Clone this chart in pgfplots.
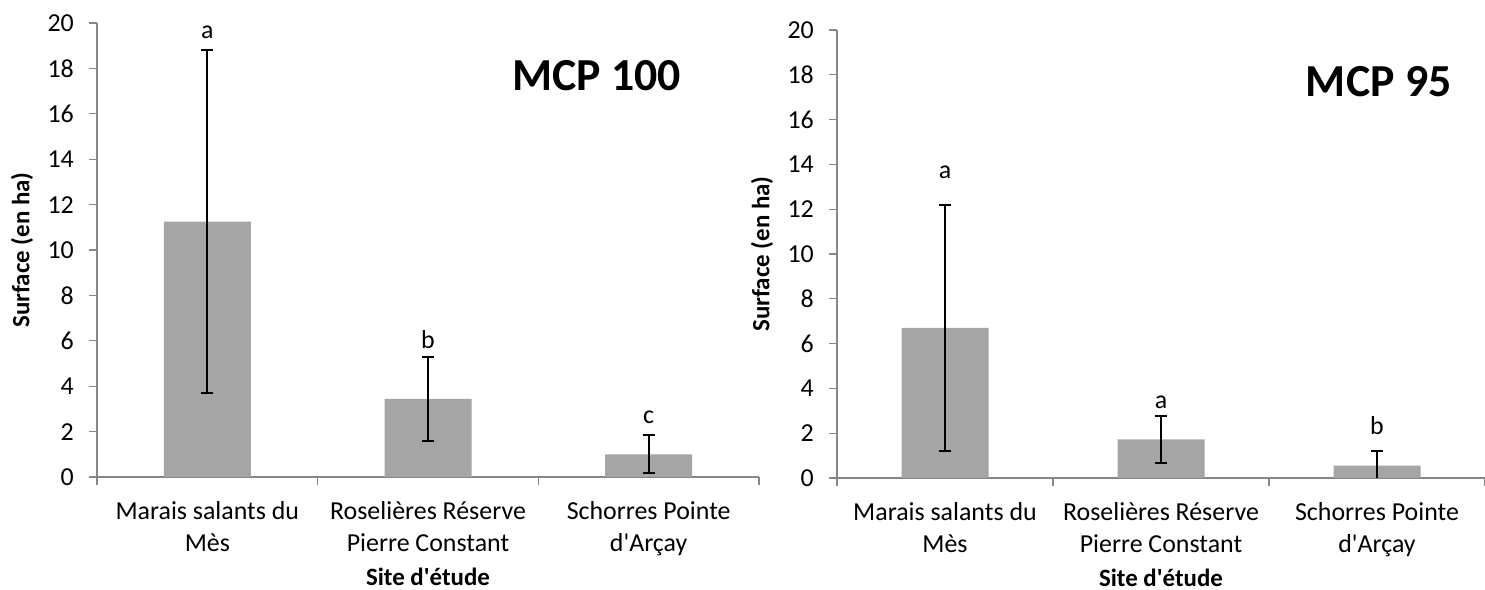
\documentclass[border=0pt]{standalone}
\usepackage{fontspec}
\setmainfont{Carlito}[Ligatures=TeXOff]
\usepackage{pgfplots}
\pgfplotsset{compat=1.18}
\definecolor{barcol}{HTML}{A5A5A5}
\definecolor{axcol}{HTML}{868686}
\pgfplotsset{mcp/.style={
  scale only axis, ybar, bar width=87bp, bar shift=0pt,
  xmin=-0.5, xmax=2.5, ymin=0, ymax=20, ytick={0,2,...,20},
  xtick={0,1,2},
  xticklabels={{Marais salants du\\Mès},{Roselières Réserve\\Pierre Constant},{Schorres Pointe\\d'Arçay}},
  minor xtick={-0.5,0.5,1.5,2.5},
  axis x line*=bottom, axis y line*=left,
  axis line style={axcol, line width=1.3bp, -},
  tick style={axcol, line width=1.3bp},
  every major x tick/.style={draw=none},
  major tick length=8bp, minor tick length=8bp, tick align=outside,
  /pgf/number format/assume math mode=true,
  tick label style={font=\fontsize{26}{32}\selectfont, text=black},
  yticklabel style={anchor=east, inner sep=0pt, xshift=-15bp},
  xticklabel style={align=center, anchor=north, inner sep=0pt, yshift=-16bp},
  ylabel={\textbf{Surface (en ha)}},
  ylabel style={font=\fontsize{25}{30}\selectfont, at={(axis description cs:0,0.5)}, anchor=center, yshift=75bp},
  xlabel={\textbf{Site d'étude}},
  xlabel style={font=\fontsize{25}{30}\selectfont, at={(axis description cs:0.5,0)}, anchor=base, yshift=-108bp},
}}
\pgfplotsset{bars/.style={fill=barcol, draw=none,
  error bars/.cd, y dir=both, y explicit,
  error bar style={black, line width=2bp},
  error mark options={rotate=90, black, mark size=6bp, line width=2bp}}}
\begin{document}
\begin{tikzpicture}
\useasboundingbox (0,0) rectangle (1485bp,590bp);
\begin{axis}[mcp, at={(97bp,113bp)}, anchor=south west, width=662bp, height=454bp]
\addplot[bars] coordinates {(0,11.25) +- (0,7.55) (1,3.44) +- (0,1.84) (2,1.0) +- (0,0.84)};
\node[font=\fontsize{26}{32}\selectfont] at (axis cs:0,19.6) {a};
\node[font=\fontsize{26}{32}\selectfont] at (axis cs:1,6.05) {b};
\node[font=\fontsize{26}{32}\selectfont] at (axis cs:2,2.65) {c};
\node[font=\fontsize{46}{52}\selectfont\bfseries] at (axis description cs:0.755,0.885) {MCP 100};
\end{axis}
\begin{axis}[mcp, at={(837bp,112bp)}, anchor=south west, width=648bp, height=448bp]
\addplot[bars] coordinates {(0,6.7) +- (0,5.5) (1,1.72) +- (0,1.03) (2,0.55) +- (0,0.65)};
\node[font=\fontsize{26}{32}\selectfont] at (axis cs:0,13.65) {a};
\node[font=\fontsize{26}{32}\selectfont] at (axis cs:1,3.4) {a};
\node[font=\fontsize{26}{32}\selectfont] at (axis cs:2,2.35) {b};
\node[font=\fontsize{46}{52}\selectfont\bfseries] at (axis description cs:0.836,0.884) {MCP 95};
\end{axis}
\end{tikzpicture}
\end{document}
